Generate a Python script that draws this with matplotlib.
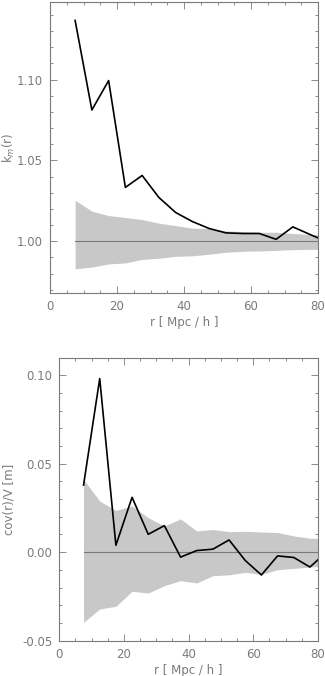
import matplotlib
matplotlib.use("Agg")
import matplotlib.pyplot as plt
from matplotlib.ticker import MultipleLocator, FormatStrFormatter

r = [7.5, 12.5, 17.5, 22.5, 27.5, 32.5, 37.5, 42.5, 47.5, 52.5, 57.5, 62.5, 67.5, 72.5, 77.5, 80.0]

km = [1.1366, 1.0812, 1.0994, 1.0333, 1.0407, 1.0271, 1.0178, 1.0122, 1.0079, 1.0052,
      1.0048, 1.0048, 1.0012, 1.0089, 1.0043, 1.0021]
km_hi = [1.0254, 1.0186, 1.0159, 1.0147, 1.0134, 1.0112, 1.0097, 1.0081, 1.0079, 1.0064,
         1.0060, 1.0056, 1.0056, 1.0048, 1.0043, 1.0041]
km_lo = [0.9830, 0.9840, 0.9860, 0.9866, 0.9888, 0.9895, 0.9907, 0.9910, 0.9920, 0.9932,
         0.9938, 0.9940, 0.9944, 0.9948, 0.9950, 0.9950]

cov = [0.0379, 0.0981, 0.0039, 0.0310, 0.0101, 0.0150, -0.0028, 0.0009, 0.0017, 0.0069,
       -0.0047, -0.0129, -0.0021, -0.0030, -0.0084, -0.0043]
cov_hi = [0.0411, 0.0289, 0.0236, 0.0261, 0.0195, 0.0148, 0.0188, 0.0120, 0.0128, 0.0116,
          0.0118, 0.0114, 0.0111, 0.0092, 0.0079, 0.0077]
cov_lo = [-0.0396, -0.0321, -0.0306, -0.0221, -0.0231, -0.0189, -0.0161, -0.0174, -0.0133, -0.0128,
          -0.0114, -0.0125, -0.0099, -0.0092, -0.0084, -0.0081]

GRAY = "#7a7a7a"
BAND = "#c8c8c8"

plt.rcParams['axes.unicode_minus'] = False

fig = plt.figure(figsize=(3.25, 6.76), dpi=100)
ax1 = fig.add_axes([50/325, 1 - 293/676, 268/325, 291/676])
ax2 = fig.add_axes([59.3/325, 1 - 641/676, 258.7/325, 283.3/676])

def style(ax, ymaj, ymin):
    for s in ax.spines.values():
        s.set_color(GRAY)
        s.set_linewidth(0.8)
    ax.set_xlim(0, 80)
    ax.xaxis.set_major_locator(MultipleLocator(20))
    ax.xaxis.set_minor_locator(MultipleLocator(5))
    ax.yaxis.set_major_locator(MultipleLocator(ymaj))
    ax.yaxis.set_minor_locator(MultipleLocator(ymin))
    ax.yaxis.set_major_formatter(FormatStrFormatter("%.2f"))
    ax.tick_params(which="both", direction="in", top=True, right=True, color=GRAY,
                   labelcolor=GRAY, labelsize=8.5, width=0.6)
    ax.tick_params(which="major", length=5, pad=5)
    ax.tick_params(which="minor", length=2.5)
    ax.set_xlabel("r [ Mpc / h ]", color=GRAY, fontsize=8.5, labelpad=2)

ax1.fill_between(r, km_lo, km_hi, color=BAND, lw=0)
ax1.axhline(1.0, xmin=7.5/80, color=GRAY, lw=0.8)
ax1.plot(r, km, color="black", lw=1.2)
style(ax1, 0.05, 0.01)
ax1.set_ylim(0.968, 1.148)
ax1.set_ylabel("k$_m$(r)", color=GRAY, fontsize=8.5, va="center")
ax1.yaxis.set_label_coords((9 - 50) / 268, 0.5)

ax2.fill_between(r, cov_lo, cov_hi, color=BAND, lw=0)
ax2.axhline(0.0, xmin=7.5/80, color=GRAY, lw=0.8)
ax2.plot(r, cov, color="black", lw=1.2)
style(ax2, 0.05, 0.01)
ax2.set_ylim(-0.0502, 0.1099)
ax2.set_ylabel("cov(r)/V [m]", color=GRAY, fontsize=8.5, va="center")
ax2.yaxis.set_label_coords((9 - 59.3) / 258.7, 0.5)

fig.savefig("out.png", dpi=100)
